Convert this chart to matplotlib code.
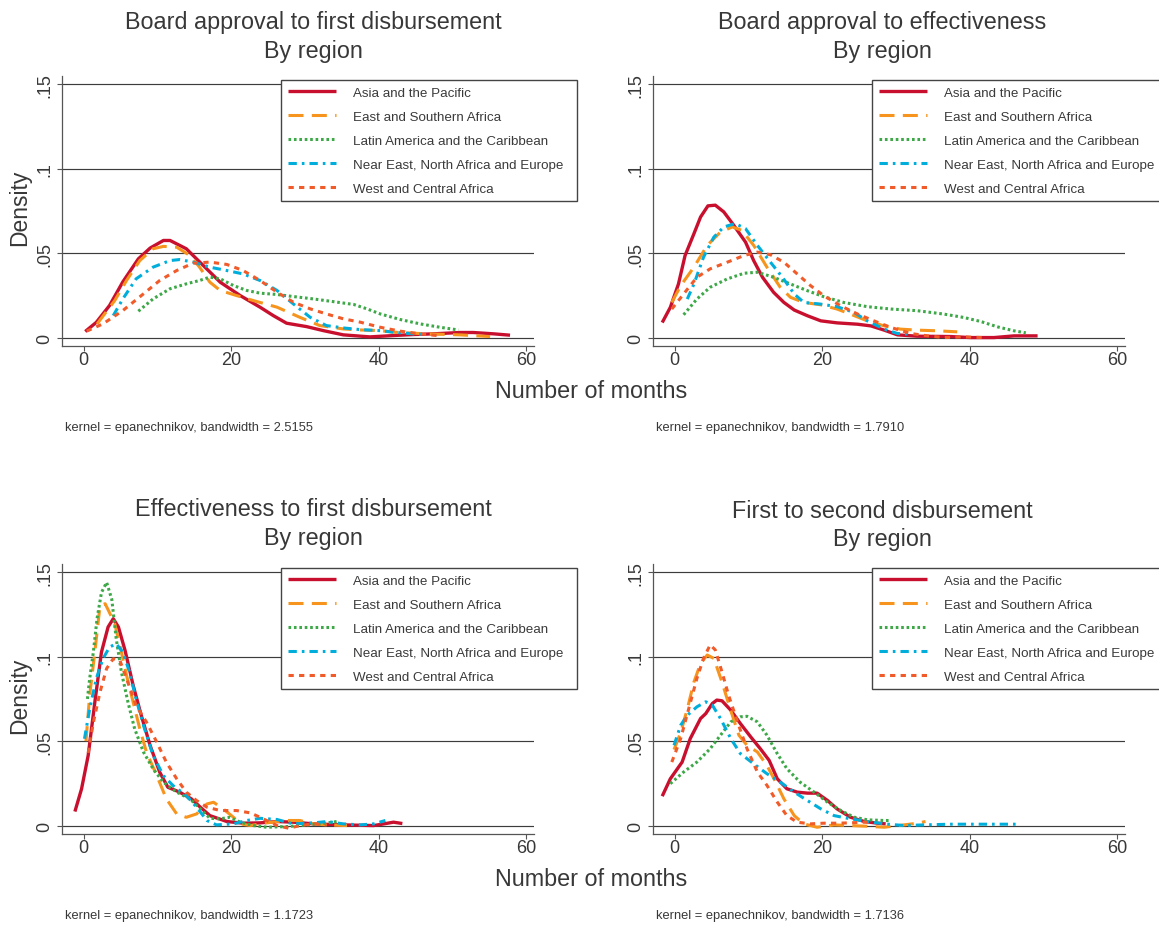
import matplotlib
matplotlib.use("Agg")
import matplotlib.pyplot as plt

W, H = 1159, 929
plt.rcParams['font.family'] = ['Liberation Sans', 'DejaVu Sans']
plt.rcParams['lines.scale_dashes'] = False

# ---------------------------------------------------------------- labels
regions = ["Asia and the Pacific", "East and Southern Africa",
           "Latin America and the Caribbean",
           "Near East, North Africa and Europe", "West and Central Africa"]
panel_titles = ["Board approval to first disbursement",
                "Board approval to effectiveness",
                "Effectiveness to first disbursement",
                "First to second disbursement"]
subtitle = "By region"
x_label = "Number of months"
y_label = "Density"
bandwidths = ["2.5155", "1.7910", "1.1723", "1.7136"]
x_ticks = [0, 20, 40, 60]
y_ticks = [0, 0.05, 0.1, 0.15]
y_tick_labels = ["0", ".05", ".1", ".15"]

# ------------------------------------------- board approval -> first disbursement
p1_apr_x = [0.2, 1.7, 3.5, 5.3, 7.4, 9.0, 10.8, 11.7, 13.9, 16.2, 18.5, 21.2, 23.9, 25.7, 27.5,
            30.2, 32.5, 35.2, 38.8, 42.0, 44.7, 47.4, 51.0, 52.8, 55.6, 57.8]
p1_apr_y = [0.0036, 0.009, 0.019, 0.033, 0.0466, 0.053, 0.0575, 0.0575, 0.0526, 0.0427, 0.0328,
            0.0249, 0.018, 0.013, 0.0085, 0.0065, 0.0041, 0.0016, 0.0004, 0.0012, 0.0018, 0.0022,
            0.003, 0.003, 0.0022, 0.0014]
p1_esa_x = [1.8, 3.0, 4.2, 5.8, 7.6, 9.4, 10.8, 12.6, 14.4, 15.7, 17.1, 18.5, 20.7, 23.0, 26.2,
            29.3, 32.0, 35.2, 37.5, 40.2, 42.0, 46.5, 51.0, 55.1]
p1_esa_y = [0.008, 0.015, 0.0219, 0.0338, 0.0456, 0.0526, 0.054, 0.0535, 0.0486, 0.0417, 0.0328,
            0.0279, 0.0249, 0.0219, 0.018, 0.012, 0.0071, 0.0051, 0.0045, 0.0041, 0.0032, 0.0022,
            0.0016, 0.0006]
p1_lac_x = [7.4, 9.4, 11.7, 13.9, 15.7, 17.1, 18.5, 20.3, 22.1, 23.9, 26.2, 28.4, 31.1, 33.8,
            36.6, 38.4, 40.2, 42.9, 45.6, 48.3, 50.8]
p1_lac_y = [0.0156, 0.0229, 0.0289, 0.0318, 0.0338, 0.0358, 0.0348, 0.0308, 0.0279, 0.0263,
            0.0255, 0.0243, 0.0229, 0.0213, 0.0196, 0.017, 0.014, 0.0107, 0.0081, 0.0061, 0.0045]
p1_nen_x = [4.0, 5.3, 7.1, 9.4, 11.7, 13.0, 14.8, 17.1, 19.4, 21.6, 23.9, 26.2, 28.4, 30.7, 32.9,
            35.2, 37.5, 40.2, 42.0, 44.7, 46.5]
p1_nen_y = [0.013, 0.0229, 0.0348, 0.0417, 0.0456, 0.0462, 0.0447, 0.0417, 0.0397, 0.0377,
            0.0338, 0.0279, 0.02, 0.012, 0.0071, 0.0057, 0.0047, 0.0041, 0.0032, 0.0022, 0.0018]
p1_wca_x = [0.4, 2.6, 5.3, 8.1, 10.3, 12.6, 14.8, 17.1, 19.4, 21.6, 23.9, 26.2, 28.4, 30.7, 32.9,
            35.2, 37.5, 40.2, 42.9, 45.6, 47.9]
p1_wca_y = [0.0038, 0.0081, 0.016, 0.0259, 0.0338, 0.0397, 0.044, 0.0447, 0.0433, 0.0397, 0.0338,
            0.0269, 0.021, 0.017, 0.014, 0.0111, 0.0091, 0.0061, 0.0038, 0.0022, 0.0012]

# ------------------------------------------------ board approval -> effectiveness
p2_apr_x = [-1.7, -0.6, 0.5, 1.4, 2.6, 3.5, 4.5, 5.5, 6.65, 8.0, 9.6, 10.7, 11.9, 13.4, 14.8,
            16.2, 18.0, 19.8, 22.0, 24.8, 26.6, 28.4, 30.2, 32.9, 37.4, 40.1, 43.3, 46.0, 49.2]
p2_apr_y = [0.0089, 0.0179, 0.0317, 0.0486, 0.0615, 0.0714, 0.078, 0.0784, 0.0744, 0.0665,
            0.0565, 0.0456, 0.0357, 0.0268, 0.0208, 0.0163, 0.0129, 0.0099, 0.0087, 0.0079,
            0.0069, 0.0044, 0.0016, 0.0008, 0.0006, 0.0, 0.0, 0.001, 0.001]
p2_esa_x = [-0.4, 0.8, 2.6, 4.4, 6.2, 7.8, 9.1, 10.7, 12.5, 14.3, 15.7, 17.5, 19.8, 22.0, 23.8,
            26.1, 28.4, 30.6, 32.9, 35.6, 38.3]
p2_esa_y = [0.0208, 0.0307, 0.0417, 0.0546, 0.0625, 0.0655, 0.0635, 0.0546, 0.0417, 0.0298,
            0.0238, 0.0208, 0.0194, 0.0169, 0.0139, 0.0099, 0.0069, 0.005, 0.0044, 0.004, 0.0034]
p2_lac_x = [1.2, 3.0, 4.8, 7.1, 9.4, 11.2, 13.4, 15.7, 17.96, 20.2, 22.9, 26.1, 29.3, 32.9, 36.5,
            39.2, 41.5, 43.8, 46.0, 47.6]
p2_lac_y = [0.0135, 0.0228, 0.0298, 0.0347, 0.0381, 0.0387, 0.0357, 0.0317, 0.0278, 0.0242,
            0.0208, 0.0183, 0.0169, 0.0159, 0.0139, 0.0119, 0.0095, 0.0063, 0.004, 0.0028]
p2_nen_x = [1.7, 2.6, 3.9, 5.3, 6.65, 8.2, 9.6, 11.2, 12.8, 14.6, 16.2, 17.5, 19.8, 22.0, 24.3,
            26.1, 28.4, 30.2, 32.0]
p2_nen_y = [0.0228, 0.0317, 0.0476, 0.0595, 0.0655, 0.0675, 0.0645, 0.0546, 0.0456, 0.0357,
            0.0258, 0.0208, 0.0198, 0.0183, 0.0149, 0.0099, 0.005, 0.0024, 0.002]
p2_wca_x = [-0.4, 1.2, 3.0, 4.8, 7.1, 9.4, 11.2, 13.0, 14.8, 16.6, 18.4, 20.2, 22.5, 24.8, 27.0,
            29.3, 32.0, 34.3, 36.5, 39.2, 41.9]
p2_wca_y = [0.0169, 0.0258, 0.0357, 0.0407, 0.0446, 0.0486, 0.0506, 0.049, 0.0446, 0.0377,
            0.0308, 0.0248, 0.0188, 0.0139, 0.0099, 0.006, 0.0024, 0.001, 0.0, 0.0004, 0.0]

# -------------------------------------------- effectiveness -> first disbursement
p3_apr_x = [-1.2, -0.3, 0.6, 1.5, 2.4, 3.3, 4.0, 4.7, 5.6, 6.7, 7.8, 9.0, 10.3, 11.4, 13.0, 14.6,
            15.8, 17.1, 19.4, 21.6, 23.9, 26.2, 28.4, 31.2, 35.2, 39.3, 40.7, 42.0, 43.2]
p3_apr_y = [0.0083, 0.0217, 0.0415, 0.073, 0.1027, 0.1176, 0.1225, 0.1176, 0.1037, 0.083,
            0.0652, 0.0474, 0.0316, 0.0227, 0.0198, 0.0158, 0.0109, 0.0059, 0.0024, 0.0014,
            0.0016, 0.0024, 0.002, 0.001, 0.0004, 0.0, 0.001, 0.002, 0.0012]
p3_esa_x = [0.3, 0.8, 1.5, 2.2, 2.9, 3.5, 4.2, 4.9, 5.8, 6.7, 7.6, 8.5, 9.9, 11.2, 12.6, 13.9,
            15.3, 16.7, 17.6, 18.9, 20.3, 21.2, 22.6, 24.8, 27.5, 29.3, 31.2, 33.0, 35.7]
p3_esa_y = [0.05, 0.077, 0.1027, 0.13, 0.1314, 0.126, 0.1195, 0.1067, 0.089, 0.073, 0.0573,
            0.0435, 0.0296, 0.0158, 0.0069, 0.0049, 0.0069, 0.0128, 0.0138, 0.0099, 0.0049,
            0.001, 0.0, 0.0016, 0.003, 0.003, 0.001, 0.0004, 0.0]
p3_lac_x = [0.5, 0.8, 1.3, 1.8, 2.4, 3.1, 3.8, 4.4, 5.1, 6.0, 6.9, 8.1, 9.4, 10.8, 12.6, 14.4,
            15.8, 17.1, 18.5, 19.8, 21.2, 23.0, 24.8, 27.5, 29.3, 32.1, 34.3]
p3_lac_y = [0.075, 0.087, 0.1027, 0.1225, 0.138, 0.144, 0.134, 0.1107, 0.091, 0.073, 0.0573,
            0.0435, 0.0336, 0.0257, 0.0198, 0.0158, 0.0099, 0.0043, 0.004, 0.0049, 0.002, 0.0,
            -0.001, -0.0006, 0.0, 0.001, 0.0024]
p3_nen_x = [0.1, 0.8, 1.7, 2.6, 3.5, 4.4, 5.3, 6.2, 7.1, 8.1, 9.4, 10.8, 12.1, 13.9, 15.3, 16.7,
            18.0, 20.3, 22.1, 23.9, 26.2, 28.4, 31.2, 33.0, 35.2, 37.5, 39.3, 40.9]
p3_nen_y = [0.0514, 0.069, 0.087, 0.0988, 0.1057, 0.1077, 0.1027, 0.091, 0.075, 0.0593, 0.0415,
            0.0296, 0.0237, 0.0178, 0.0109, 0.003, 0.0004, 0.001, 0.003, 0.0043, 0.0036, 0.001,
            0.0016, 0.0024, 0.001, 0.0004, 0.001, 0.003]
p3_wca_x = [0.6, 1.3, 2.2, 3.1, 4.0, 4.9, 5.8, 7.1, 8.5, 9.9, 11.2, 12.6, 13.9, 15.3, 16.7, 18.5,
            20.7, 22.6, 23.9, 26.2, 27.8, 29.3, 31.2, 33.0]
p3_wca_y = [0.043, 0.061, 0.079, 0.093, 0.0988, 0.0978, 0.087, 0.0711, 0.0613, 0.0494, 0.0375,
            0.0277, 0.0198, 0.0148, 0.0109, 0.0089, 0.0089, 0.0075, 0.0049, 0.0, -0.0016, 0.0,
            0.001, 0.0004]

# ------------------------------------------------ first -> second disbursement
p4_apr_x = [-1.7, -0.6, 1.0, 2.1, 3.5, 4.2, 5.1, 5.7, 6.4, 7.6, 8.9, 10.3, 11.6, 12.8, 13.9,
            15.2, 16.6, 18.0, 19.3, 20.7, 22.0, 23.8, 25.7, 27.5, 28.6]
p4_apr_y = [0.0174, 0.0277, 0.0376, 0.0515, 0.0634, 0.0663, 0.0723, 0.0743, 0.0739, 0.0683,
            0.0604, 0.0525, 0.0455, 0.0386, 0.0277, 0.0218, 0.0198, 0.0192, 0.0192, 0.0149,
            0.0099, 0.005, 0.0024, 0.0014, 0.001]
p4_esa_x = [-0.1, 0.8, 1.7, 2.6, 3.5, 4.4, 5.3, 6.4, 7.6, 8.7, 9.8, 11.2, 12.5, 13.7, 14.8, 16.2,
            17.5, 19.3, 21.6, 23.8, 26.1, 28.4, 31.1, 32.9, 34.0]
p4_esa_y = [0.045, 0.055, 0.069, 0.085, 0.096, 0.101, 0.099, 0.085, 0.068, 0.0535, 0.0475,
            0.0436, 0.0356, 0.0257, 0.0158, 0.0059, 0.001, -0.001, 0.0004, 0.0, -0.0004, -0.001,
            0.0004, 0.0014, 0.0024]
p4_lac_x = [-0.6, 1.2, 3.0, 4.8, 6.2, 7.6, 8.9, 9.8, 11.2, 12.5, 13.9, 15.2, 17.0, 18.9, 20.7,
            22.5, 24.3, 26.1, 28.4, 29.3]
p4_lac_y = [0.0248, 0.0317, 0.0376, 0.0455, 0.0535, 0.0614, 0.0644, 0.0647, 0.0614, 0.0535,
            0.0426, 0.0337, 0.0257, 0.0198, 0.0139, 0.0089, 0.005, 0.0034, 0.003, 0.003]
p4_nen_x = [-0.1, 0.8, 1.7, 3.0, 4.2, 5.1, 6.2, 7.6, 8.9, 10.7, 12.5, 14.3, 16.2, 17.96, 19.8,
            21.6, 23.8, 26.1, 28.4, 31.1, 33.8, 37.4, 41.9, 46.9]
p4_nen_y = [0.0475, 0.0594, 0.0653, 0.0703, 0.0733, 0.0713, 0.0634, 0.0515, 0.0426, 0.0366,
            0.0307, 0.0257, 0.0198, 0.0149, 0.0099, 0.0059, 0.004, 0.0024, 0.001, 0.0, 0.0004,
            0.0008, 0.0008, 0.0008]
p4_wca_x = [-0.4, 0.8, 1.9, 3.0, 3.9, 4.8, 5.5, 6.4, 7.3, 8.5, 9.8, 11.2, 12.5, 13.9, 15.2, 16.6,
            18.4, 20.2, 22.0, 23.8, 25.7, 26.6]
p4_wca_y = [0.0376, 0.0515, 0.0693, 0.0871, 0.099, 0.107, 0.104, 0.091, 0.0772, 0.0614, 0.0455,
            0.0317, 0.0238, 0.0139, 0.0059, 0.002, 0.001, 0.0014, 0.0014, 0.0016, 0.002, 0.002]

panel_series = [
    [(p1_apr_x, p1_apr_y), (p1_esa_x, p1_esa_y), (p1_lac_x, p1_lac_y), (p1_nen_x, p1_nen_y), (p1_wca_x, p1_wca_y)],
    [(p2_apr_x, p2_apr_y), (p2_esa_x, p2_esa_y), (p2_lac_x, p2_lac_y), (p2_nen_x, p2_nen_y), (p2_wca_x, p2_wca_y)],
    [(p3_apr_x, p3_apr_y), (p3_esa_x, p3_esa_y), (p3_lac_x, p3_lac_y), (p3_nen_x, p3_nen_y), (p3_wca_x, p3_wca_y)],
    [(p4_apr_x, p4_apr_y), (p4_esa_x, p4_esa_y), (p4_lac_x, p4_lac_y), (p4_nen_x, p4_nen_y), (p4_wca_x, p4_wca_y)],
]

# ---------------------------------------------------------------- styling
line_styles = [
    dict(color="#C8102E", lw=2.4, linestyle="-"),
    dict(color="#F7941D", lw=2.2, linestyle=(0, (10.8, 6.0))),
    dict(color="#3DA847", lw=2.2, linestyle=(0, (1.9, 2.0))),
    dict(color="#00AEDB", lw=2.2, linestyle=(0, (6.0, 3.6, 1.9, 3.6))),
    dict(color="#F15A29", lw=2.2, linestyle=(0, (3.8, 3.8))),
]
TEXT = "#383838"
GRID = "#3c3c3c"
SPINE = "#555555"


def fx(px):
    return px / W


def fy(py):
    return 1 - py / H


fig = plt.figure(figsize=(W / 100, H / 100), dpi=100, facecolor="white")

# plot-area corners in pixels (left, top) and size
origins = [(62, 77), (653, 77), (62, 565), (653, 565)]
AX_W, AX_H = 472, 269.5
title_cx = [313, 882, 313, 882]
title_base = [(29, 58), (29, 58), (516, 545), (518, 546)]

for i, (left, top) in enumerate(origins):
    ax = fig.add_axes([fx(left), fy(top + AX_H), AX_W / W, AX_H / H])
    handles = []
    for (xs, ys), st in zip(panel_series[i], line_styles):
        ln, = ax.plot(xs, ys, solid_capstyle="butt", dash_capstyle="butt", **st)
        handles.append(ln)

    ax.set_xlim(-2.95, 61.05)
    ax.set_ylim(-0.0047, 0.1549)
    ax.set_xticks(x_ticks)
    ax.set_yticks(y_ticks, y_tick_labels)
    ax.tick_params(axis="both", direction="out", length=3.6, width=0.8, color=SPINE,
                   labelsize=13, labelcolor=TEXT)
    ax.tick_params(axis="x", pad=0.5)
    ax.tick_params(axis="y", pad=2.6)
    for lab in ax.get_yticklabels():
        lab.set_rotation(90)
        lab.set_va("center")
    ax.grid(axis="y", color=GRID, lw=0.85)
    ax.set_axisbelow(True)
    for s in ("top", "right"):
        ax.spines[s].set_visible(False)
    for s in ("left", "bottom"):
        ax.spines[s].set_color(SPINE)
        ax.spines[s].set_linewidth(0.9)

    # legend box: 296 px wide, top edge 4 px below the top of the plot area
    leg_h = 121
    leg = ax.legend(handles, regions, loc="upper left", mode="expand",
                    bbox_to_anchor=(fx(left + 219), fy(top + 4 + leg_h), 296 / W, leg_h / H),
                    bbox_transform=fig.transFigure, borderaxespad=0,
                    fontsize=9.6, handlelength=3.6, handletextpad=1.28,
                    labelspacing=0.87, borderpad=0.5, frameon=True,
                    fancybox=False, framealpha=1, edgecolor="#444444",
                    labelcolor="#3a3a3a")
    leg.get_frame().set_linewidth(1.0)

    # titles
    fig.text(fx(title_cx[i]), fy(title_base[i][0]), panel_titles[i], ha="center",
             va="baseline", fontsize=16.8, color=TEXT)
    fig.text(fx(title_cx[i]), fy(title_base[i][1]), subtitle, ha="center",
             va="baseline", fontsize=16.8, color=TEXT)

    # kernel note
    fig.text(fx(left + 3), fy(top + 354), f"kernel = epanechnikov, bandwidth = {bandwidths[i]}",
             ha="left", va="baseline", fontsize=9.3, color=TEXT)

    if i % 2 == 0:
        fig.text(fx(19.6), fy(top + 131), y_label, rotation=90, ha="center",
                 va="center", fontsize=16.5, color=TEXT)
        fig.text(fx(591), fy(top + 321), x_label, ha="center", va="baseline",
                 fontsize=16.8, color=TEXT)

fig.savefig("out.png", dpi=100, facecolor="white")
